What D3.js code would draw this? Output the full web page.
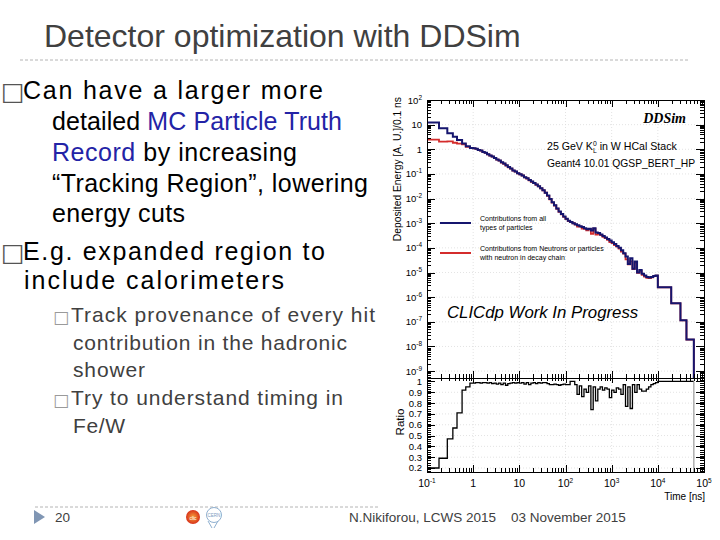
<!DOCTYPE html>
<html><head><meta charset="utf-8">
<script src="https://cdn.jsdelivr.net/npm/d3@7"></script>
<style>
html,body{margin:0;padding:0;background:#fff;}
svg{display:block;font-family:"Liberation Sans",Arial,sans-serif;}
</style></head><body>
<svg id="c" width="720" height="540"></svg>
<script>
// ---------------- DATA ----------------
// histogram bin edges, log10(time / ns)
const timeEdgesLog10 = [
 -1.00,-0.74,-0.56,-0.44,-0.35,-0.24,-0.16,-0.07,
 0.00,0.05,0.10,0.15,0.20,0.25,0.30,0.35,0.40,0.45,
 0.50,0.55,0.60,0.65,0.70,0.75,0.80,0.85,0.90,0.95,
 1.00,1.05,1.10,1.15,1.20,1.25,1.30,1.35,1.40,1.45,
 1.50,1.55,1.60,1.65,1.70,1.75,1.80,1.85,1.90,1.95,
 2.00,2.05,2.10,2.15,2.20,2.25,2.30,2.35,2.40,2.45,
 2.50,2.55,2.60,2.65,2.70,2.75,2.80,2.85,2.90,2.95,
 3.00,3.05,3.10,3.15,3.20,3.25,3.30,3.35,3.40,3.45,
 3.50,3.55,3.60,3.65,3.70,3.75,3.80,3.85,3.90,3.95,
 4.00,4.29,4.49,4.62,4.78];
// deposited energy from all particles, log10 [A.U./0.1 ns]
const energyAllLog10 = [
 1.09,0.85,0.65,0.51,0.38,0.24,0.12,0.05,
 0.04,0.02,-0.03,-0.05,-0.11,-0.14,-0.20,-0.25,-0.29,-0.35,
 -0.41,-0.45,-0.53,-0.58,-0.65,-0.72,-0.78,-0.86,-0.90,-0.97,
 -1.01,-1.06,-1.13,-1.18,-1.25,-1.31,-1.37,-1.43,-1.50,-1.58,
 -1.66,-1.76,-1.88,-2.02,-2.15,-2.27,-2.40,-2.52,-2.63,-2.73,
 -2.82,-2.90,-2.95,-3.00,-3.04,-3.08,-3.12,-3.15,-3.20,-3.24,
 -3.22,-3.30,-3.20,-3.38,-3.40,-3.46,-3.52,-3.58,-3.64,-3.70,
 -3.77,-3.84,-3.92,-4.00,-4.10,-4.22,-4.35,-4.65,-4.42,-4.85,
 -4.55,-5.00,-4.90,-5.05,-5.12,-5.18,-5.20,-5.18,-5.14,-5.12,
 -5.60,-6.25,-6.94,-7.72];
// ratio: neutron-related contribution / all
const ratioNeutron = [
 0.20,0.29,0.47,0.57,0.71,0.92,0.95,0.985,
 0.985,0.99,0.99,0.985,0.99,0.99,0.985,0.99,0.98,0.985,
 0.975,0.985,0.97,0.985,0.965,0.98,0.985,0.99,0.985,0.99,
 0.985,0.99,0.975,0.99,0.97,0.985,0.99,0.98,0.99,0.985,
 0.99,0.99,0.98,0.97,0.97,0.975,0.97,0.965,0.97,0.975,
 0.97,0.97,1.0,1.0,0.97,0.88,0.96,0.86,0.93,0.90,
 0.96,0.74,0.95,0.82,0.93,0.95,0.92,0.94,0.93,0.85,
 0.92,0.90,0.94,0.93,0.88,0.97,0.77,0.95,0.75,0.97,
 0.90,0.97,0.93,0.91,0.91,0.93,0.95,0.97,0.98,0.99,
 1.0,1.0,1.0,1.0];
const xTickExponents = [-1,0,1,2,3,4,5];
const yTickExponents = [2,1,0,-1,-2,-3,-4,-5,-6,-7,-8,-9];
const ratioTickLabels = [1,0.9,0.8,0.7,0.6,0.5,0.4,0.3,0.2];
const legendAll = ["Contributions from all","types of particles"];
const legendNeutron = ["Contributions from Neutrons or particles","with neutron in decay chain"];

// ---------------- LAYOUT ----------------
const svg = d3.select("#c");
const L=427, R=704, T=100, M=378, B=472;
const x = d3.scaleLog().domain([0.1,1e5]).range([L,R]);
const yU = d3.scaleLog().domain([Math.pow(10,-9.28),100]).range([M,T]);
const yR = d3.scaleLinear().domain([0.163,1.032]).range([B,M]);
const xe = e => x(Math.pow(10,e));

// ---------- slide text ----------
svg.append("text").attr("x",44).attr("y",47).attr("font-size",32).attr("fill","#404040")
  .text("Detector optimization with DDSim");
svg.append("line").attr("x1",20).attr("x2",688).attr("y1",60).attr("y2",60)
  .attr("stroke","#b4b4b4").attr("stroke-dasharray","3,2");

const blue="#2323a6";
function mainLine(xp,yp,w,parts){
  const t=svg.append("text").attr("x",xp).attr("y",yp).attr("font-size",25).attr("fill","#000")
    .attr("textLength",w).attr("lengthAdjust","spacing");
  parts.forEach(p=>t.append("tspan").attr("fill",p[1]||"#000").text(p[0]));
}
function box(xp,yp,size,col){
  svg.append("text").attr("x",xp).attr("y",yp).attr("font-size",size)
    .attr("font-family","DejaVu Sans").attr("fill",col).text("□");
}
box(1,100,25,"#555");
mainLine(23,99,300,[["Can have a larger more"]]);
mainLine(52,130,290,[["detailed "],["MC Particle Truth",blue]]);
mainLine(52,161,245,[["Record",blue],[" by increasing"]]);
mainLine(52,192,316,[["“Tracking Region”, lowering"]]);
mainLine(52,222,133,[["energy cuts"]]);
box(1,261,25,"#555");
mainLine(23,260,302,[["E.g. expanded region to"]]);
mainLine(24,289,260,[["include calorimeters"]]);

function subLine(xp,yp,w,s){
  svg.append("text").attr("x",xp).attr("y",yp).attr("font-size",21).attr("fill","#404040")
    .attr("textLength",w).attr("lengthAdjust","spacing").text(s);
}
box(53,323,17,"#9a9a9a");
subLine(71,322,304,"Track provenance of every hit");
subLine(73,350,274,"contribution in the hadronic");
subLine(73,377,72,"shower");
box(53,406,17,"#9a9a9a");
subLine(71,405,272,"Try to understand timing in");
subLine(73,433,52,"Fe/W");

// footer
svg.append("line").attr("x1",35).attr("x2",378).attr("y1",507).attr("y2",507)
  .attr("stroke","#b4b4b4").attr("stroke-dasharray","3,2");
svg.append("polygon").attr("points","34,510 45,517 34,524").attr("fill","#8096b4");
const foot = (xp,s)=>svg.append("text").attr("x",xp).attr("y",522).attr("font-size",13.5).attr("fill","#404040").text(s);
foot(55,"20");
foot(349,"N.Nikiforou, LCWS 2015");
foot(511,"03 November 2015");
const grad = svg.append("defs").append("radialGradient").attr("id","clic");
grad.append("stop").attr("offset","0%").attr("stop-color","#f6a23a");
grad.append("stop").attr("offset","100%").attr("stop-color","#d8321a");
svg.append("circle").attr("cx",193).attr("cy",517).attr("r",7).attr("fill","url(#clic)");
svg.append("text").attr("x",193).attr("y",520).attr("font-size",5).attr("text-anchor","middle").attr("fill","#fff").text("clic");
svg.append("circle").attr("cx",214).attr("cy",515).attr("r",7.5).attr("fill","none").attr("stroke","#8fb0d0").attr("stroke-width",1);
svg.append("text").attr("x",214).attr("y",517).attr("font-size",4.5).attr("text-anchor","middle").attr("fill","#7a9cc0").text("CERN");
svg.append("path").attr("d","M208,521 L212,528 M218,521 L214,528").attr("stroke","#8fb0d0").attr("fill","none");

// ---------- chart ----------
const defs = svg.select("defs");
defs.append("clipPath").attr("id","cu").append("rect").attr("x",L).attr("y",T).attr("width",R-L).attr("height",M-T);
defs.append("clipPath").attr("id","cr").append("rect").attr("x",L).attr("y",M).attr("width",R-L).attr("height",B-M);

// grid
const grid = svg.append("g").attr("stroke","#dcdcdc").attr("stroke-dasharray","1,2").attr("stroke-width",0.8);
xTickExponents.slice(1,-1).forEach(e=>{
  grid.append("line").attr("x1",xe(e)).attr("x2",xe(e)).attr("y1",T).attr("y2",B);
});
yTickExponents.slice(1).forEach(e=>{
  grid.append("line").attr("x1",L).attr("x2",R).attr("y1",yU(Math.pow(10,e))).attr("y2",yU(Math.pow(10,e)));
});
ratioTickLabels.slice(1).forEach(v=>{
  grid.append("line").attr("x1",L).attr("x2",R).attr("y1",yR(v)).attr("y2",yR(v));
});

// histograms
const line = d3.line();
function histPts(vals, yf, base){
  const p=[[xe(timeEdgesLog10[0]), base]];
  vals.forEach((v,i)=>{ p.push([xe(timeEdgesLog10[i]), yf(v)]); p.push([xe(timeEdgesLog10[i+1]), yf(v)]); });
  p.push([xe(timeEdgesLog10[vals.length]), base]);
  return p;
}
const energyNeutronLog10 = energyAllLog10.map((v,i)=>v+Math.log10(ratioNeutron[i]));
const up = svg.append("g").attr("clip-path","url(#cu)");
up.append("path").attr("d",line(histPts(energyNeutronLog10, v=>yU(Math.pow(10,v)), M)))
  .attr("fill","none").attr("stroke","#d42c2c").attr("stroke-width",1.8);
up.append("path").attr("d",line(histPts(energyAllLog10, v=>yU(Math.pow(10,v)), M)))
  .attr("fill","none").attr("stroke","#15156e").attr("stroke-width",2);

const lo = svg.append("g").attr("clip-path","url(#cr)");
const rp = histPts(ratioNeutron, v=>yR(v), yR(ratioNeutron[0])).slice(1,-1);
lo.append("path").attr("d",line(rp)).attr("fill","none").attr("stroke","#000").attr("stroke-width",1.3);
const xl = xe(timeEdgesLog10[timeEdgesLog10.length-1]);
lo.append("line").attr("x1",xl).attr("x2",xl).attr("y1",yR(1)).attr("y2",B).attr("stroke","#9a9a9a").attr("stroke-width",1.2);

// ticks via d3 axes
function logTicks(lo_, hi_){
  const maj=[],min=[];
  for(let d=Math.floor(Math.log10(lo_))-1; d<=Math.ceil(Math.log10(hi_)); d++){
    const m=Math.pow(10,d); if(m>=lo_*0.999 && m<=hi_*1.001) maj.push(m);
    for(let k=2;k<10;k++){const v=k*m; if(v>=lo_ && v<=hi_) min.push(v);}
  }
  return [maj,min];
}
const [xMaj,xMin]=logTicks(0.1,1e5);
const [yMaj,yMin]=logTicks(Math.pow(10,-9.28),100);
const rMaj=d3.range(2,11).map(k=>k/10);
const rMin=d3.range(17,103,2).map(k=>k/100).filter(v=>Math.abs(v*10-Math.round(v*10))>1e-6);

function axis(gen, scale, vals, size, tx, ty){
  svg.append("g").attr("transform",`translate(${tx},${ty})`)
    .call(gen(scale).tickValues(vals).tickSize(size).tickFormat(""))
    .call(g=>{g.select(".domain").remove(); g.selectAll("line").attr("stroke","#000").attr("shape-rendering","crispEdges");});
}
// upper panel
axis(d3.axisRight, yU, yMaj, 8, L, 0); axis(d3.axisRight, yU, yMin, 4, L, 0);
axis(d3.axisLeft, yU, yMaj, 8, R, 0);  axis(d3.axisLeft, yU, yMin, 4, R, 0);
axis(d3.axisBottom, x, xMaj, 7, 0, T); axis(d3.axisBottom, x, xMin, 4, 0, T);
axis(d3.axisTop, x, xMaj, 7, 0, M);    axis(d3.axisTop, x, xMin, 4, 0, M);
// lower panel
axis(d3.axisRight, yR, rMaj, 8, L, 0); axis(d3.axisRight, yR, rMin, 4, L, 0);
axis(d3.axisLeft, yR, rMaj, 8, R, 0);  axis(d3.axisLeft, yR, rMin, 4, R, 0);
axis(d3.axisBottom, x, xMaj, 5, 0, M); axis(d3.axisBottom, x, xMin, 3, 0, M);
axis(d3.axisTop, x, xMaj, 7, 0, B);    axis(d3.axisTop, x, xMin, 4, 0, B);

// frames
svg.append("rect").attr("x",L).attr("y",T).attr("width",R-L).attr("height",M-T).attr("fill","none").attr("stroke","#000").attr("shape-rendering","crispEdges");
svg.append("rect").attr("x",L).attr("y",M).attr("width",R-L).attr("height",B-M).attr("fill","none").attr("stroke","#000").attr("shape-rendering","crispEdges");

// tick labels
function powLabel(sel, e){
  if(e===0) sel.text("1");
  else if(e===1) sel.text("10");
  else { sel.append("tspan").text("10"); sel.append("tspan").attr("dy",-4).attr("font-size",6.5).text(String(e)); }
}
yTickExponents.forEach(e=>{
  const t=svg.append("text").attr("x",422).attr("y",yU(Math.pow(10,e))+3.5).attr("text-anchor","end").attr("font-size",9.5).attr("fill","#000");
  powLabel(t,e);
});
ratioTickLabels.forEach(v=>{
  svg.append("text").attr("x",422).attr("y",yR(v)+3.5).attr("text-anchor","end").attr("font-size",9.5).attr("fill","#000").text(String(v));
});
xTickExponents.forEach(e=>{
  const t=svg.append("text").attr("x",xe(e)).attr("y",487).attr("text-anchor","middle").attr("font-size",10.5).attr("fill","#000");
  powLabel(t,e);
});
svg.append("text").attr("x",705).attr("y",500).attr("text-anchor","end").attr("font-size",10).text("Time [ns]");
svg.append("text").attr("transform","translate(401,97) rotate(-90)").attr("text-anchor","end").attr("font-size",10.3)
  .text("Deposited Energy [A. U.]/0.1 ns");
svg.append("text").attr("transform","translate(404,422) rotate(-90)").attr("text-anchor","middle").attr("font-size",11.5)
  .text("Ratio");

// annotations
svg.append("text").attr("x",686).attr("y",123).attr("text-anchor","end").attr("font-family","Liberation Serif")
  .attr("font-weight","bold").attr("font-style","italic").attr("font-size",14).text("DDSim");
const a1=svg.append("text").attr("x",547).attr("y",150).attr("font-size",10.6);
a1.append("tspan").text("25 GeV K");
a1.append("tspan").attr("font-size",6.8).attr("dy",-4.5).text("0");
a1.append("tspan").attr("font-size",6.8).attr("dx",-3.8).attr("dy",7).text("L");
a1.append("tspan").attr("dy",-2.5).text(" in W HCal Stack");
svg.append("text").attr("x",547).attr("y",167).attr("font-size",10.3).text("Geant4 10.01 QGSP_BERT_HP");
svg.append("text").attr("x",447).attr("y",318).attr("font-size",16.8).attr("font-style","italic").text("CLICdp Work In Progress");

// legend
svg.append("line").attr("x1",440).attr("x2",471).attr("y1",223).attr("y2",223).attr("stroke","#15156e").attr("stroke-width",2);
svg.append("line").attr("x1",440).attr("x2",471).attr("y1",253).attr("y2",253).attr("stroke","#d42c2c").attr("stroke-width",2);
legendAll.forEach((s,i)=>svg.append("text").attr("x",480).attr("y",221+i*9).attr("font-size",7).text(s));
legendNeutron.forEach((s,i)=>svg.append("text").attr("x",480).attr("y",251+i*9).attr("font-size",7).text(s));
</script></body></html>
